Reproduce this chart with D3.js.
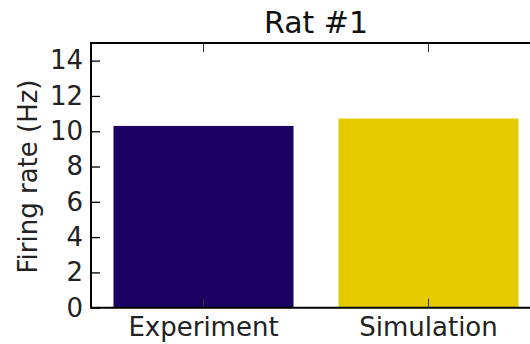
<!DOCTYPE html>
<html>
<head>
<meta charset="utf-8">
<script src="https://cdn.jsdelivr.net/npm/d3@7"></script>
<style>
  html, body { margin: 0; padding: 0; background: #fff; }
  svg { display: block; }
  svg text { font-family: "DejaVu Sans", sans-serif; }
</style>
</head>
<body>
<svg id="chart" width="530" height="344"></svg>
<script>
// Mean firing rate, experiment vs. simulation
const categories = ["Experiment", "Simulation"];
const rates = [10.3, 10.72];
const barColors = ["#1b0064", "#e6ca00"];
const yTicks = [0, 2, 4, 6, 8, 10, 12, 14];
const titleText = "Rat #1";
const yLabel = "Firing rate (Hz)";

const FONT = "DejaVu Sans";
const svg = d3.select("#chart");
const plotLeft = 91, plotRight = 541, plotTop = 43, plotBottom = 307.7;

const x = d3.scaleBand().domain(categories).range([plotLeft, plotRight])
  .paddingInner(0.2).paddingOuter(0.1);
const y = d3.scaleLinear().domain([0, 15]).range([plotBottom, plotTop]);

// bars
svg.append("g").selectAll("rect")
  .data(categories.map((c, i) => ({ c, v: rates[i], col: barColors[i] })))
  .join("rect")
  .attr("x", d => x(d.c))
  .attr("width", x.bandwidth())
  .attr("y", d => y(d.v))
  .attr("height", d => y(0) - y(d.v))
  .attr("fill", d => d.col);

// y axis, ticks pointing inward
const yAxis = svg.append("g").attr("transform", `translate(${plotLeft},0)`)
  .call(d3.axisLeft(y).tickValues(yTicks).tickSize(-9).tickPadding(8))
  .attr("font-family", FONT).attr("font-size", 26);
yAxis.select(".domain").remove();
yAxis.selectAll(".tick line").attr("stroke", "#000").attr("stroke-width", 1.3);
yAxis.selectAll("text").attr("fill", "#222");

// x axis at bottom, inward ticks
const xAxis = svg.append("g").attr("transform", `translate(0,${plotBottom})`)
  .call(d3.axisBottom(x).tickSize(-9).tickPadding(10))
  .attr("font-family", FONT).attr("font-size", 26);
xAxis.select(".domain").remove();
xAxis.selectAll(".tick line").attr("stroke", "#333").attr("stroke-width", 1);
xAxis.selectAll("text").attr("fill", "#222");

// top tick marks
const xTop = svg.append("g").attr("transform", `translate(0,${plotTop})`)
  .call(d3.axisTop(x).tickSize(-9).tickFormat(""));
xTop.select(".domain").remove();
xTop.selectAll(".tick line").attr("stroke", "#333").attr("stroke-width", 1);

// spines
svg.append("line").attr("x1", plotLeft).attr("x2", 530).attr("y1", plotTop).attr("y2", plotTop)
  .attr("stroke", "#000").attr("stroke-width", 2);
svg.append("line").attr("x1", plotLeft).attr("x2", 530).attr("y1", plotBottom).attr("y2", plotBottom)
  .attr("stroke", "#000").attr("stroke-width", 2);
svg.append("line").attr("x1", plotLeft).attr("x2", plotLeft).attr("y1", plotTop - 1).attr("y2", plotBottom + 1)
  .attr("stroke", "#000").attr("stroke-width", 2);

// title
svg.append("text").attr("x", (plotLeft + plotRight) / 2).attr("y", 33)
  .attr("text-anchor", "middle").attr("font-size", 30).attr("fill", "#111")
  .text(titleText);

// y label
svg.append("text").attr("transform", `translate(36.5,176.5) rotate(-90)`)
  .attr("text-anchor", "middle").attr("font-size", 26).attr("fill", "#222")
  .text(yLabel);
</script>
</body>
</html>
